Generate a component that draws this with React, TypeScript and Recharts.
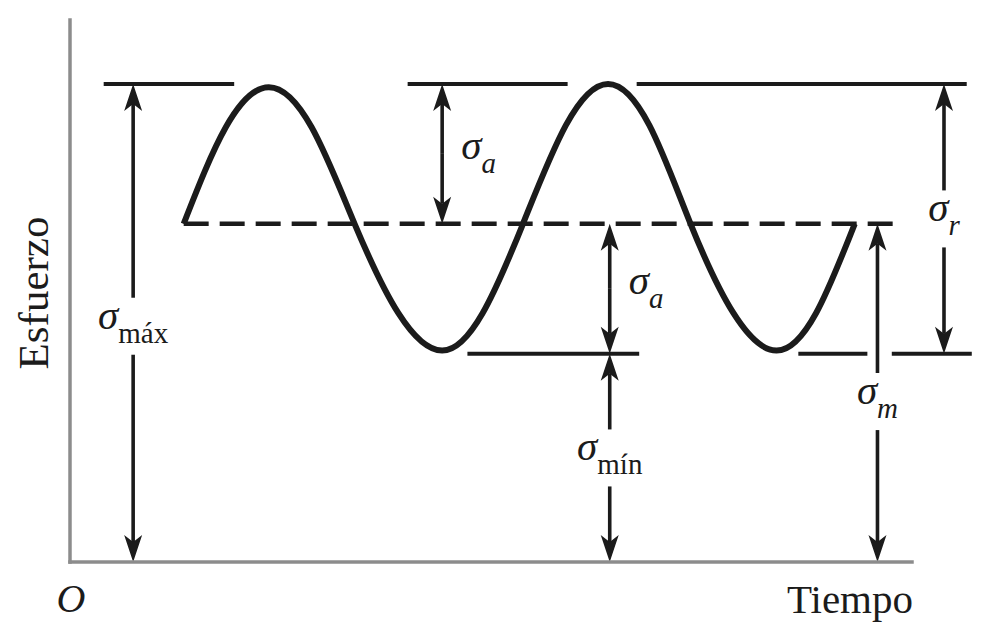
import { ComposedChart, Line, XAxis, YAxis, ReferenceLine, Label } from 'recharts';

// sinusoidal stress cycle (time units, stress units)
const TIME = [1.35, 1.85, 2.36, 2.87, 3.38, 3.9, 4.42, 4.9, 5.38, 5.89, 6.39, 6.88, 7.37, 7.88, 8.39, 8.86, 9.32];
const STRESS = [62.4, 80.2, 87.6, 80.2, 62.4, 45.9, 39.0, 45.9, 62.4, 80.6, 88.2, 80.6, 62.4, 45.9, 39.0, 45.9, 62.4];

const SIGMA_MAX = 88.2;
const SIGMA_MIN = 38.4;
const SIGMA_M = 62.4;

// extent (in time) of the guide lines drawn at each stress level
const MAX_SEGMENTS = [[0.4, 1.95], [4.01, 5.91], [6.73, 10.65]];
const MIN_SEGMENTS = [[4.72, 6.76], [8.65, 9.47], [9.76, 10.71]];
const MEAN_SPAN = [1.35, 9.89];

const wave = TIME.map((t, i) => ({ t, stress: STRESS[i] }));

const INK = '#1b1b1b';
const AXIS_GREY = '#8c8c8c';
const SERIF = '"Liberation Serif", "Times New Roman", serif';

type Dim = {
  t: number;
  from: number;
  to: number;
  sub: string;
  subItalic: boolean;
  labelAt?: number;
};

// dimension arrows; labelAt = label sits in a gap of the shaft, otherwise label to the right
const DIMS: Dim[] = [
  { t: 0.75, from: 0, to: SIGMA_MAX, sub: 'máx', subItalic: false, labelAt: 43.5 },
  { t: 4.42, from: SIGMA_M, to: SIGMA_MAX, sub: 'a', subItalic: true },
  { t: 6.41, from: SIGMA_MIN, to: SIGMA_M, sub: 'a', subItalic: true },
  { t: 6.41, from: 0, to: SIGMA_MIN, sub: 'mín', subItalic: false, labelAt: 19.2 },
  { t: 10.38, from: SIGMA_MIN, to: SIGMA_MAX, sub: 'r', subItalic: true, labelAt: 63.3 },
  { t: 9.59, from: 0, to: SIGMA_M, sub: 'm', subItalic: true, labelAt: 29.6 },
];

const HEAD_LEN = 27;
const HEAD_W = 9;
const HEAD_NOTCH = 20;
const GAP = 28.5;

function Sigma({ x, y, sub, subItalic, anchor }: any) {
  return (
    <text x={x} y={y} textAnchor={anchor} fontFamily={SERIF} fill={INK}>
      <tspan fontSize={41} fontStyle="italic">σ</tspan>
      <tspan fontSize={29} fontStyle={subItalic ? 'italic' : 'normal'} dy={14}>
        {sub}
      </tspan>
    </text>
  );
}

// shaft from y0 to tip y, with arrowhead at the tip
function arrow(x: number, y0: number, tip: number, key: string) {
  const up = tip < y0;
  const back = up ? tip + HEAD_LEN : tip - HEAD_LEN;
  const notch = up ? tip + HEAD_NOTCH : tip - HEAD_NOTCH;
  return (
    <g key={key}>
      <line x1={x} y1={y0} x2={x} y2={notch} stroke={INK} strokeWidth={3.6} />
      <polygon
        points={`${x},${tip} ${x + HEAD_W},${back} ${x},${notch} ${x - HEAD_W},${back}`}
        fill={INK}
      />
    </g>
  );
}

const dimShape = (d: Dim) => (p: any) => {
  const x = p.x1;
  const yFrom = p.y1;
  const yTo = p.y2;
  if (d.labelAt === undefined) {
    const mid = (yFrom + yTo) / 2;
    return (
      <g>
        {arrow(x, mid, yFrom, 'a')}
        {arrow(x, mid, yTo, 'b')}
        <Sigma x={x + 19} y={mid + 5} sub={d.sub} subItalic={d.subItalic} anchor="start" />
      </g>
    );
  }
  const yL = yFrom + ((d.labelAt - d.from) / (d.to - d.from)) * (yTo - yFrom);
  return (
    <g>
      {arrow(x, yL + GAP, yFrom, 'a')}
      {arrow(x, yL - GAP, yTo, 'b')}
      <Sigma x={x} y={yL + 2.5} sub={d.sub} subItalic={d.subItalic} anchor="middle" />
    </g>
  );
};

const XLabels = (props: any) => {
  const vb = props.viewBox;
  return (
    <g fontFamily={SERIF} fill={INK}>
      <text x={vb.x + 1} y={vb.y + 50} fontSize={40} fontStyle="italic" textAnchor="middle">
        O
      </text>
      <text x={vb.x + vb.width + 1} y={vb.y + 51} fontSize={41} textAnchor="end">
        Tiempo
      </text>
    </g>
  );
};

const YLabel = (props: any) => {
  const vb = props.viewBox;
  const x = vb.x + vb.width - 22;
  const y = vb.y + vb.height / 2 + 2;
  return (
    <text
      x={x}
      y={y}
      transform={`rotate(-90, ${x}, ${y})`}
      fontFamily={SERIF}
      fontSize={43}
      fill={INK}
      textAnchor="middle"
    >
      Esfuerzo
    </text>
  );
};

export default function App() {
  return (
    <div style={{ position: 'absolute', left: 0, top: 0, width: 992, height: 643, background: '#fff' }}>
      <ComposedChart width={992} height={643} data={wave} margin={{ top: 20, right: 80, bottom: 51, left: 10 }}>
        <XAxis
          dataKey="t"
          type="number"
          domain={[0, 10]}
          height={30}
          tick={false}
          tickLine={false}
          axisLine={{ stroke: AXIS_GREY, strokeWidth: 3.5, strokeLinecap: 'square' }}
        >
          <Label content={XLabels} />
        </XAxis>
        <YAxis
          type="number"
          domain={[0, 100]}
          width={60}
          tick={false}
          tickLine={false}
          axisLine={{ stroke: AXIS_GREY, strokeWidth: 3.5, strokeLinecap: 'square' }}
        >
          <Label content={YLabel} />
        </YAxis>

        {MAX_SEGMENTS.map(([a, b], i) => (
          <ReferenceLine
            key={`max-${i}`}
            segment={[{ x: a, y: SIGMA_MAX }, { x: b, y: SIGMA_MAX }]}
            stroke={INK}
            strokeWidth={4}
            ifOverflow="visible"
          />
        ))}
        {MIN_SEGMENTS.map(([a, b], i) => (
          <ReferenceLine
            key={`min-${i}`}
            segment={[{ x: a, y: SIGMA_MIN }, { x: b, y: SIGMA_MIN }]}
            stroke={INK}
            strokeWidth={4}
            ifOverflow="visible"
          />
        ))}
        <ReferenceLine
          segment={[{ x: MEAN_SPAN[0], y: SIGMA_M }, { x: MEAN_SPAN[1], y: SIGMA_M }]}
          stroke={INK}
          strokeWidth={4.5}
          strokeDasharray="25 11"
          ifOverflow="visible"
        />
        {DIMS.map((d, i) => (
          <ReferenceLine
            key={`dim-${i}`}
            segment={[{ x: d.t, y: d.from }, { x: d.t, y: d.to }]}
            ifOverflow="visible"
            shape={dimShape(d)}
          />
        ))}

        <Line
          type="natural"
          dataKey="stress"
          stroke={INK}
          strokeWidth={6}
          dot={false}
          activeDot={false}
          isAnimationActive={false}
        />
      </ComposedChart>
    </div>
  );
}
